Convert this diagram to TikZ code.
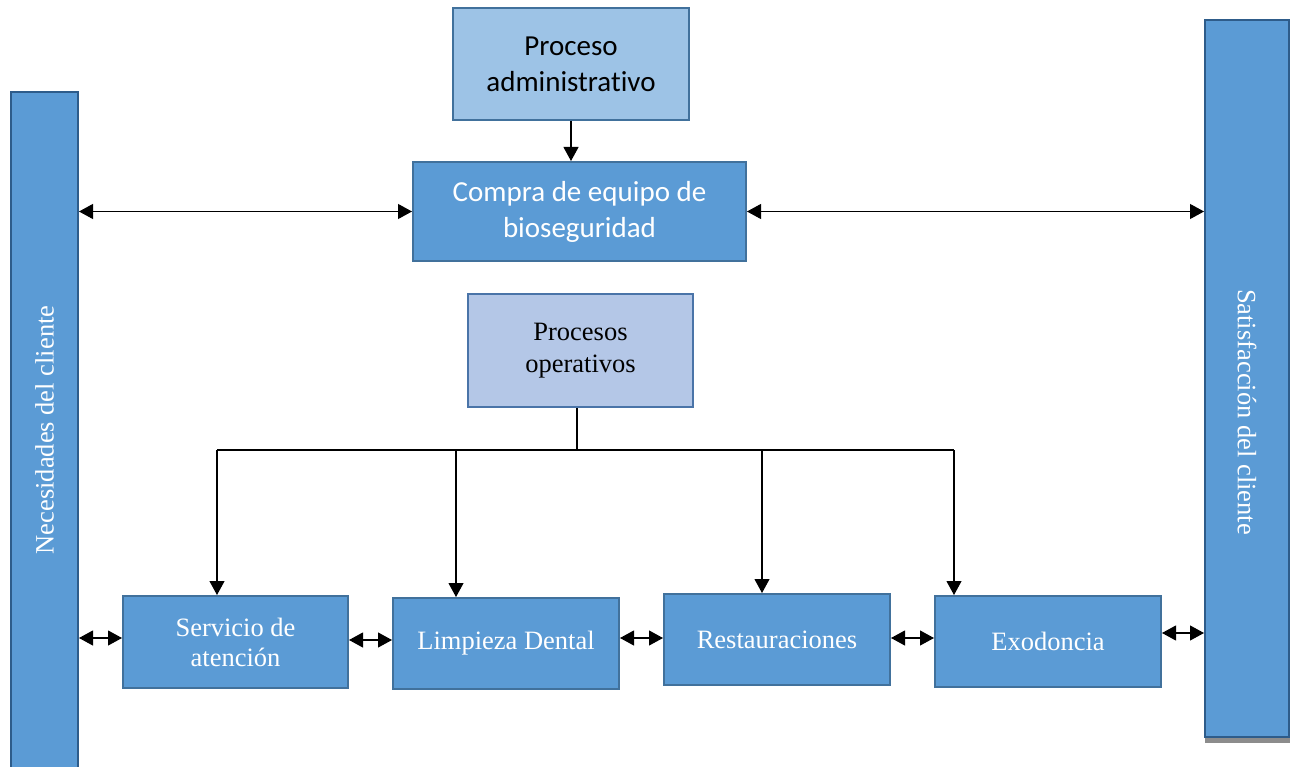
\documentclass[tikz,border=0pt]{standalone}
\usepackage{fontspec}
\setmainfont{Liberation Serif}
\newfontfamily\carl[Ligatures=NoCommon]{Carlito}
\usetikzlibrary{arrows.meta,calc}
\definecolor{bfill}{HTML}{5B9BD5}
\definecolor{bdraw}{HTML}{41719C}
\definecolor{sdraw}{HTML}{2E5C8A}
\definecolor{afill}{HTML}{9DC3E6}
\definecolor{pfill}{HTML}{B4C7E7}
\definecolor{pdraw}{HTML}{4A74A8}
\tikzset{
  box/.style={draw=bdraw, line width=2pt, fill=bfill, inner sep=0pt, align=center, text=white},
  sidebar/.style={draw=sdraw, line width=2pt, fill=bfill, inner sep=0pt},
  serif/.style={font=\fontsize{26.5}{30}\selectfont},
  calib/.style={font=\carl\fontsize{29}{36}\selectfont},
  conn/.style={line width=1.1pt, black},
  tip/.style={conn, -{Triangle[length=14pt,width=15pt]}},
  dtip/.style={conn, {Triangle[length=14pt,width=15pt]}-{Triangle[length=14pt,width=15pt]}}
}
\begin{document}
\begin{tikzpicture}[x=1pt,y=-1pt]
\useasboundingbox (0,0) rectangle (1290,767);
% side bars
\node[sidebar, minimum width=67pt, minimum height=685pt] (lbar) at (44.5,434.5) {};
\node[rotate=90, text=white, serif] (ltext) at (44.5,430) {Necesidades del cliente};
\fill[gray!90] (1205,26) rectangle (1292,743);
\node[sidebar, minimum width=84pt, minimum height=717pt] (rbar) at (1247,378.5) {};
\node[rotate=-90, text=white, serif] (rtext) at (1247,412) {Satisfacción del cliente};
% top boxes
\node[box, fill=afill, text=black, calib, minimum width=236pt, minimum height=112pt] (adm) at (571,64) {Proceso\\administrativo};
\node[box, calib, minimum width=333pt, minimum height=99pt] (cmp) at (579.5,211.5) {Compra de equipo de\\bioseguridad};
\node[box, fill=pfill, draw=pdraw, text=black, font=\fontsize{26.5}{32}\selectfont, minimum width=225pt, minimum height=113pt] (po) at (580.5,350.5) {Procesos\\operativos};
% bottom boxes
\node[box, serif, minimum width=225pt, minimum height=92pt] (srv) at (235.5,642) {Servicio de\\atención};
\node[box, serif, minimum width=226pt, minimum height=91pt] (lim) at (506,643.5) {Limpieza Dental};
\node[box, serif, minimum width=226pt, minimum height=91pt] (res) at (777,639.5) {Restauraciones};
\node[box, serif, minimum width=226pt, minimum height=91pt] (exo) at (1048,641.5) {Exodoncia};
% connectors top
\draw[tip] (adm.south) -- (adm.south |- cmp.north);
\draw[dtip] (lbar.east |- cmp.west) -- (cmp.west);
\draw[dtip] (cmp.east) -- (rbar.west |- cmp.east);
% bus
\coordinate (pj) at (577,450);
\coordinate (b1) at (217,450);
\coordinate (b2) at (456,450);
\coordinate (b3) at (762,450);
\coordinate (b4) at (954,450);
\draw[conn] (pj |- po.south) -- (pj);
\draw[conn] (b1) -- (b4);
\draw[tip] (b1) -- (b1 |- srv.north);
\draw[tip] (b2) -- (b2 |- lim.north);
\draw[tip] (b3) -- (b3 |- res.north);
\draw[tip] (b4) -- (b4 |- exo.north);
% bottom double arrows
\coordinate (y1) at (0,638);
\coordinate (y2) at (0,640);
\coordinate (y5) at (0,633);
\draw[dtip] (lbar.east |- y1) -- (srv.west |- y1);
\draw[dtip] (srv.east |- y2) -- (lim.west |- y2);
\draw[dtip] (lim.east |- y1) -- (res.west |- y1);
\draw[dtip] (res.east |- y1) -- (exo.west |- y1);
\draw[dtip] (exo.east |- y5) -- (rbar.west |- y5);
\end{tikzpicture}
\end{document}
